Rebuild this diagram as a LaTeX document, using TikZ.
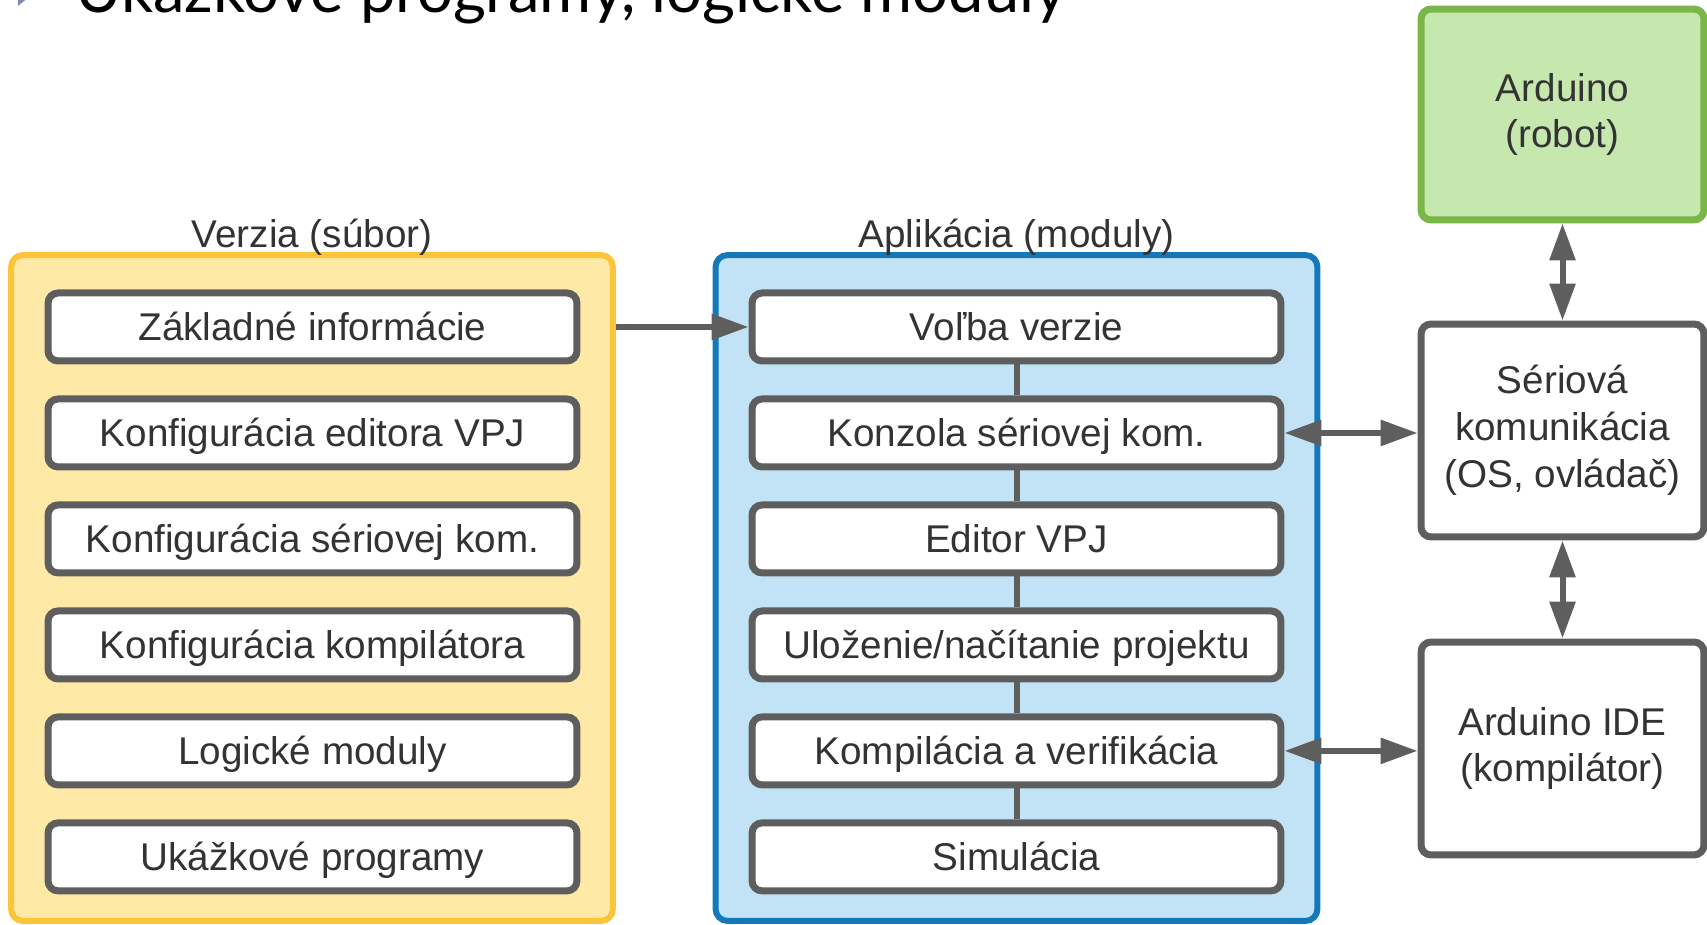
\documentclass[tikz,border=0pt]{standalone}
\usepackage{fontspec}
\setmainfont{Liberation Sans}
\newfontfamily\titulfont{Lato}
\usetikzlibrary{arrows.meta, positioning}

\definecolor{txtgray}{HTML}{333333}
\definecolor{linegray}{HTML}{5E5E5E}
\definecolor{verfill}{HTML}{FFE9A6}
\definecolor{verline}{HTML}{FCC438}
\definecolor{appfill}{HTML}{C2E3F5}
\definecolor{appline}{HTML}{1379BB}
\definecolor{robfill}{HTML}{C6E7AE}
\definecolor{robline}{HTML}{7AB648}
\definecolor{bulletcol}{HTML}{8189B8}

\tikzset{
	modul/.style={draw=linegray, line width=0.14cm, fill=white, rounded corners=0.2cm,
		minimum width=10.58cm, minimum height=1.36cm, inner sep=0pt,
		text=txtgray, font=\fontsize{22}{26.7}\selectfont, text height=18.5pt, text depth=3pt},
	blok/.style={modul, minimum width=5.66cm, minimum height=4.26cm, align=center, text height=, text depth=},
	obal/.style={line width=0.12cm, rounded corners=0.24cm, minimum width=12.04cm, minimum height=13.32cm},
	nadpis/.style={text=txtgray, font=\fontsize{22}{26.7}\selectfont, inner sep=0pt},
	titul/.style={font=\titulfont\fontsize{36}{40}\selectfont, inner sep=0pt},
	spoj/.style={draw=linegray, line width=0.12cm}
}

\begin{document}
\begin{tikzpicture}[x=0.02cm, y=0.02cm, >={Triangle[length=0.74cm,width=0.5cm]}, node distance=0.62cm]
	\useasboundingbox (0,0) rectangle (1707,925);
	
	%Nadpis
	\fill[bulletcol] (18,919) -- (18,955) -- (40,937) -- cycle;
	\node (titul) [titul, anchor=base west] at (75,912) {Ukážkové programy, logické moduly};
	
	%Obaly
	\node (verzia) [obal, draw=verline, fill=verfill] at (312,337) {};
	\node (aplikacia) [obal, draw=appline, fill=appfill] at (1016.5,337) {};
	\node (verzialbl) [nadpis, anchor=base] at ([yshift=0.1cm]verzia.north) {Verzia (súbor)};
	\node (aplikacialbl) [nadpis, anchor=base] at ([yshift=0.1cm]aplikacia.north) {Aplikácia (moduly)};
	
	%Verzia
	\node (zakladne) [modul] at (312.5,598) {Základné informácie};
	\node (keditor) [modul, below=of zakladne] {Konfigurácia editora VPJ};
	\node (kserial) [modul, below=of keditor] {Konfigurácia sériovej kom.};
	\node (kkompil) [modul, below=of kserial] {Konfigurácia kompilátora};
	\node (logicke) [modul, below=of kkompil] {Logické moduly};
	\node (ukazkove) [modul, below=of logicke] {Ukážkové programy};
	
	%Aplikacia
	\node (volba) [modul] at (1016.5,598) {Voľba verzie};
	\node (konzola) [modul, below=of volba] {Konzola sériovej kom.};
	\node (editor) [modul, below=of konzola] {Editor VPJ};
	\node (ulozenie) [modul, below=of editor] {Uloženie/načítanie projektu};
	\node (kompilacia) [modul, below=of ulozenie] {Kompilácia a verifikácia};
	\node (simulacia) [modul, below=of kompilacia] {Simulácia};
	
	%Okolie
	\node (robot) [blok, draw=robline, fill=robfill, minimum height=4.22cm] at (1562.5,810.5) {Arduino\\(robot)};
	\node (serial) [blok] at (1562.5,494.5) {Sériová\\komunikácia\\(OS, ovládač)};
	\node (ide) [blok] at (1562.5,176.5) {Arduino IDE\\(kompilátor)};
	
	%Spojnice
	\path[spoj]
	(volba) edge (konzola)
	(konzola) edge (editor)
	(editor) edge (ulozenie)
	(ulozenie) edge (kompilacia)
	(kompilacia) edge (simulacia);
	
	\draw[spoj, ->] (verzia.east |- volba.west) -- (volba.west);
	\draw[spoj, <->] (konzola.east) -- (konzola.east -| serial.west);
	\draw[spoj, <->] (kompilacia.east) -- (kompilacia.east -| ide.west);
	\draw[spoj, <->] (robot.south) -- (serial.north);
	\draw[spoj, <->] (serial.south) -- (ide.north);
	
\end{tikzpicture}
\end{document}
